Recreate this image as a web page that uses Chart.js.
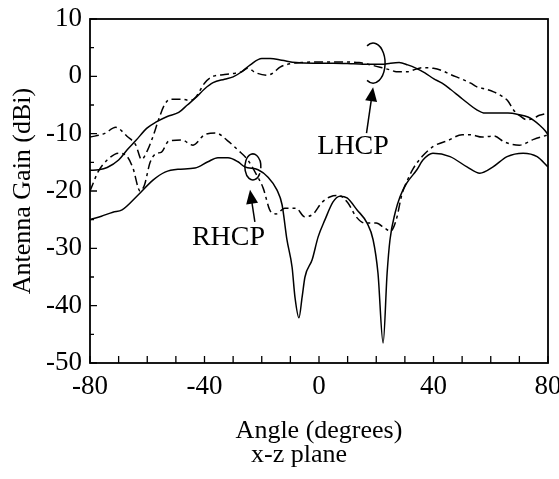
<!DOCTYPE html>
<html lang="en">
<head>
<meta charset="UTF-8">
<title>Antenna Gain - x-z plane</title>
<script src="https://cdn.jsdelivr.net/npm/chart.js@4.4.1/dist/chart.umd.min.js"></script>
<style>
  body { margin: 0; background: #fff; }
  #wrap { width: 559px; height: 479px; }
</style>
</head>
<body>
<div id="wrap"><canvas id="gainChart" width="559" height="479"></canvas></div>
<script>
// values: angle in degrees, gain in dBi
const lhcpSolidAngle = [-80,-77,-74,-70,-67,-64,-60,-57,-53,-49,-46,-43,-40,-37,-33,-30,-27,-24,-20,-17,-13,-8,-2,5,12,18,22,25,28,31,34,37,40,43,46,49,52,55,58,62,66,70,73,75,77,79,80];
const lhcpSolidGain  = [-16.4,-16.3,-15.9,-14.6,-12.8,-11.2,-9,-8,-7,-6.3,-5,-3.7,-2.2,-1.1,-0.5,-0.1,0.8,2,3.1,3.1,2.8,2.4,2.3,2.3,2.2,2.1,2.1,2.3,2.4,2.0,1.4,0.6,-0.4,-1.2,-2.3,-3.5,-4.7,-5.8,-6.4,-6.4,-6.4,-6.7,-7.1,-7.7,-8.5,-9.5,-10.2];

const lhcpDashAngle = [-80,-75,-71,-67,-64,-62,-60,-58,-56,-54,-52,-48,-45,-43,-40,-37,-33,-30,-27,-25,-22,-18,-16,-13.6,-10,-6,-2,2,8,14,18,22,25,27,31,33,36,40,43,46,50,53,55,58,61,64,66,68,70,72.7,75,77,80];
const lhcpDashGain  = [-10.6,-10,-8.9,-10.5,-12,-14.5,-13,-10.5,-7.5,-5,-4,-4,-4.2,-3.6,-1.2,0,0.3,0.5,0.8,1.4,0.6,0.2,0.6,1.6,2.2,2.4,2.5,2.5,2.5,2.4,2.0,1.5,1.1,0.8,0.8,1.1,1.5,1.4,1.0,0.3,-0.5,-1.2,-1.8,-2.2,-2.7,-3.5,-4.3,-5.9,-6.8,-7.6,-7.3,-6.8,-6.4];

const rhcpSolidAngle = [-80,-76,-72,-68.8,-63.2,-58,-53.8,-49.3,-43.3,-38.8,-35.3,-31.8,-28.3,-25.9,-21.3,-17.8,-14.7,-12.9,-11.2,-9.4,-8.4,-7,-5.9,-4.9,-2.4,-0.3,2.1,4.9,7.3,9.8,13.3,16.8,18.9,20.6,22.4,23.8,24.8,26.6,28.3,30.7,34.2,36.3,39.8,45.8,51.7,56.2,60.8,65.7,71.3,76.2,80];
const rhcpSolidGain  = [-25,-24.4,-23.7,-23.3,-20.7,-18.1,-16.7,-16.2,-16,-14.9,-14.2,-14.2,-14.9,-15.8,-16.3,-17.6,-19.8,-22.4,-28.5,-33.3,-38.5,-42.1,-38.5,-35,-32,-28,-25,-21.9,-20.9,-21.2,-23.3,-25.6,-28.5,-34.3,-46.5,-34.3,-28.5,-23.8,-21,-18.6,-16.3,-14.6,-13.4,-14,-15.8,-16.9,-15.8,-14,-13.4,-14,-15.8];

const rhcpDashAngle = [-80,-77,-74,-70,-67,-65,-62.5,-61,-59,-57,-55,-52.5,-48,-44,-40,-36,-32,-28,-25,-22,-19.5,-17,-15,-12,-8,-5,-2,1,4,7,10,13,16,20,23,25,27,29,31,33,36,40,45,50,53,57,61,65,70,75,80];
const rhcpDashGain  = [-20,-16.5,-14.6,-13.4,-14,-16,-20,-19,-15,-13.5,-13.2,-11.3,-11.1,-12,-10.2,-9.9,-11.2,-13,-14.5,-17,-19.5,-23.5,-24,-23,-23,-24.5,-24,-22,-21,-20.8,-22,-24.5,-25.6,-25.6,-26.5,-27,-25,-20.5,-18,-16,-14,-12.2,-11.2,-10.2,-10.2,-10.6,-10.4,-11.5,-12,-11,-10.2];

const xTicks = [-80, -40, 0, 40, 80];
const yTicks = [10, 0, -10, -20, -30, -40, -50];

const serif = '"Liberation Serif", "DejaVu Serif", serif';
const dashPattern = [9, 4, 3, 4];

function toPoints(xs, ys) {
    return xs.map((x, i) => ({ x: x, y: ys[i] }));
}

function series(label, xs, ys, dashed) {
    return {
        label: label,
        data: toPoints(xs, ys),
        borderColor: '#000',
        borderWidth: 1.5,
        borderDash: dashed ? dashPattern : [],
        pointRadius: 0,
        fill: false,
        cubicInterpolationMode: 'monotone'
    };
}

// inward ticks + box frame
const frame = {
    id: 'frame',
    afterDatasetsDraw(chart) {
        const { ctx, chartArea: a, scales: { x, y } } = chart;
        ctx.save();
        ctx.strokeStyle = '#000';
        ctx.lineWidth = 1.3;
        ctx.beginPath();
        for (let v = -80; v <= 80; v += 10) {
            const px = x.getPixelForValue(v);
            ctx.moveTo(px, a.bottom);
            ctx.lineTo(px, a.bottom - 7);
        }
        for (let v = -50; v <= 10; v += 5) {
            const py = y.getPixelForValue(v);
            ctx.moveTo(a.left, py);
            ctx.lineTo(a.left + (v % 10 === 0 ? 7 : 4), py);
        }
        ctx.stroke();
        ctx.lineWidth = 1.8;
        ctx.strokeRect(a.left, a.top, a.right - a.left, a.bottom - a.top);
        ctx.restore();
    }
};

// LHCP / RHCP labels, arrows, ellipses and axis titles
function arrow(ctx, x, y, x0, y0, x1, y1) {
    const ax = x.getPixelForValue(x0), ay = y.getPixelForValue(y0);
    const bx = x.getPixelForValue(x1), by = y.getPixelForValue(y1);
    const ang = Math.atan2(by - ay, bx - ax);
    ctx.beginPath();
    ctx.moveTo(ax, ay);
    ctx.lineTo(bx - 10 * Math.cos(ang), by - 10 * Math.sin(ang));
    ctx.stroke();
    ctx.beginPath();
    ctx.moveTo(bx, by);
    ctx.lineTo(bx - 14 * Math.cos(ang) + 6 * Math.sin(ang), by - 14 * Math.sin(ang) - 6 * Math.cos(ang));
    ctx.lineTo(bx - 14 * Math.cos(ang) - 6 * Math.sin(ang), by - 14 * Math.sin(ang) + 6 * Math.cos(ang));
    ctx.closePath();
    ctx.fill();
}

const notes = {
    id: 'notes',
    afterDraw(chart) {
        const { ctx, chartArea: a, scales: { x, y } } = chart;
        ctx.save();
        ctx.fillStyle = '#000';
        ctx.strokeStyle = '#000';
        ctx.lineWidth = 1.5;

        ctx.font = '28px ' + serif;
        ctx.textBaseline = 'alphabetic';
        ctx.textAlign = 'left';
        ctx.fillText('LHCP', x.getPixelForValue(-0.6), y.getPixelForValue(-13.5));
        ctx.fillText('RHCP', x.getPixelForValue(-44.4), y.getPixelForValue(-29.4));

        arrow(ctx, x, y, 16.6, -9.9, 18.9, -1.9);
        arrow(ctx, x, y, -22.4, -25.4, -24.1, -19.8);

        // LHCP ")" mark
        ctx.beginPath();
        ctx.ellipse(x.getPixelForValue(18.9), y.getPixelForValue(2.3), 12, 20, 0, -2.1, 2.1);
        ctx.stroke();
        // RHCP oval
        ctx.beginPath();
        ctx.ellipse(x.getPixelForValue(-23.1), y.getPixelForValue(-15.8), 8, 13, 0, 0.5, Math.PI * 2 + 0.1);
        ctx.stroke();

        ctx.font = '26px ' + serif;
        ctx.textAlign = 'center';
        ctx.textBaseline = 'alphabetic';
        const cx = (a.left + a.right) / 2;
        ctx.fillText('Angle (degrees)', cx, a.bottom + 75);
        ctx.fillText('x-z plane', cx - 20, a.bottom + 99);

        ctx.translate(30, (a.top + a.bottom) / 2);
        ctx.rotate(-Math.PI / 2);
        ctx.fillText('Antenna Gain (dBi)', 0, 0);
        ctx.restore();
    }
};

const ctx = document.getElementById('gainChart').getContext('2d');
new Chart(ctx, {
    type: 'line',
    data: {
        datasets: [
            series('LHCP', lhcpSolidAngle, lhcpSolidGain, false),
            series('LHCP (dashed)', lhcpDashAngle, lhcpDashGain, true),
            series('RHCP', rhcpSolidAngle, rhcpSolidGain, false),
            series('RHCP (dashed)', rhcpDashAngle, rhcpDashGain, true)
        ]
    },
    options: {
        responsive: false,
        animation: false,
        layout: { padding: { left: 0, right: 11, top: 19, bottom: 0 } },
        plugins: { legend: { display: false }, tooltip: { enabled: false } },
        scales: {
            x: {
                type: 'linear',
                min: -80,
                max: 80,
                afterFit: (s) => { s.height = 116; s.paddingLeft = 0; s.paddingRight = 0; },
                afterBuildTicks: (s) => { s.ticks = xTicks.map(v => ({ value: v })); },
                grid: { display: false, drawTicks: false },
                border: { display: false },
                ticks: { color: '#000', padding: 8, font: { family: serif, size: 27 }, maxRotation: 0 }
            },
            y: {
                type: 'linear',
                min: -50,
                max: 10,
                afterFit: (s) => { s.width = 90; s.paddingTop = 0; s.paddingBottom = 0; },
                afterBuildTicks: (s) => { s.ticks = yTicks.map(v => ({ value: v })); },
                grid: { display: false, drawTicks: false },
                border: { display: false },
                ticks: { color: '#000', padding: 8, font: { family: serif, size: 27 } }
            }
        }
    },
    plugins: [frame, notes]
});
</script>
</body>
</html>
